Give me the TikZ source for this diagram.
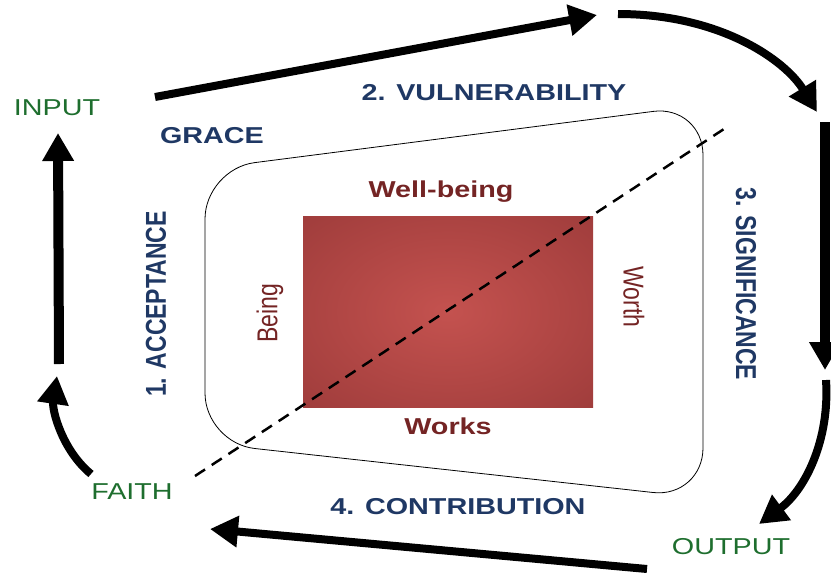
\documentclass[tikz,border=0pt]{standalone}
\usepackage{fontspec}
\setmainfont{Liberation Sans}
\usepackage{graphicx}
\usetikzlibrary{arrows.meta}
\definecolor{navy}{HTML}{1F3864}
\definecolor{leaf}{HTML}{1E6E2E}
\definecolor{wine}{HTML}{742424}
\definecolor{boxin}{HTML}{C4524F}
\definecolor{boxout}{HTML}{8C3131}
\pgfdeclareradialshading{glow}{\pgfpoint{0bp}{0bp}}{color(0bp)=(boxin); color(55bp)=(boxout)}
\newcommand\wh[1]{\scalebox{1.25}[1]{#1}}
\newcommand\wv[1]{\scalebox{1}[1.25]{#1}}
\tikzset{
  flow/.style={line width=8pt, -{Triangle[length=28pt,width=30pt]}},
  frame/.style={draw=black, line width=0.8pt, rounded corners=50pt},
  cut/.style={line width=2.5pt, dash pattern=on 12pt off 8pt},
  head/.style={text=navy, font=\fontsize{23}{27}\selectfont\bfseries, inner sep=0pt},
  io/.style={text=leaf, font=\fontsize{23}{27}\selectfont, inner sep=0pt},
  side/.style={text=wine, font=\fontsize{23}{27}\selectfont, inner sep=0pt},
  sideb/.style={side, font=\fontsize{23}{27}\selectfont\bfseries},
}
\begin{document}
\begin{tikzpicture}[x=1pt, y=-1pt]
  \useasboundingbox (0,0) rectangle (831,574);
  % frame and core
  \draw[frame] (205,300) -- (205,169) -- (703,105) -- (703,498) -- (205,443) -- cycle;
  \shade[shading=glow] (303,216) rectangle (593,407);
  \draw[cut] (195,476) -- (727,127);
  % labels
  \node[io, anchor=base] (in) at (57,115) {\wh{INPUT}};
  \node[io, anchor=base] (faith) at (132,499) {\wh{FAITH}};
  \node[io, anchor=base] (out) at (731,554) {\wh{OUTPUT}};
  \node[head, anchor=base] (grace) at (212,143) {\wh{GRACE}};
  \node[head, anchor=base] (vul) at (494,100) {\wh{2. VULNERABILITY}};
  \node[head, anchor=base] (con) at (458,514) {\wh{4. CONTRIBUTION}};
  \node[head, rotate=90] (acc) at (156,304) {\wv{1. ACCEPTANCE}};
  \node[head, rotate=-90] (sig) at (746,284) {\wv{3. SIGNIFICANCE}};
  \node[sideb, anchor=base] (well) at (441,197) {\wh{Well-being}};
  \node[sideb, anchor=base] (works) at (448,434) {\wh{Works}};
  \node[side, rotate=90] (being) at (270,313) {\wv{Being}};
  \node[side, rotate=-90] (worth) at (634,297) {\wv{Worth}};
  % cycle arrows
  \coordinate (t0) at (155,97);  \coordinate (t1) at (597,15);
  \coordinate (r0) at (618,14);  \coordinate (r1) at (817,112);
  \coordinate (d0) at (825,122); \coordinate (d1) at (825,370);
  \coordinate (o0) at (826,380); \coordinate (o1) at (759,524);
  \coordinate (b0) at (647,569); \coordinate (b1) at (210,529);
  \coordinate (f0) at (91,474);  \coordinate (f1) at (57,376);
  \coordinate (u0) at (59,364);  \coordinate (u1) at (58,133);
  \draw[flow] (t0) -- (t1);
  \draw[flow] (r0) .. controls (720,14) and (785,60) .. (r1);
  \draw[flow, line width=10pt] (d0) -- (d1);
  \draw[flow] (o0) .. controls (830,440) and (805,490) .. (o1);
  \draw[flow] (b0) -- (b1);
  \draw[flow] (f0) .. controls (62,450) and (52,410) .. (f1);
  \draw[flow, line width=10pt] (u0) -- (u1);
\end{tikzpicture}
\end{document}
